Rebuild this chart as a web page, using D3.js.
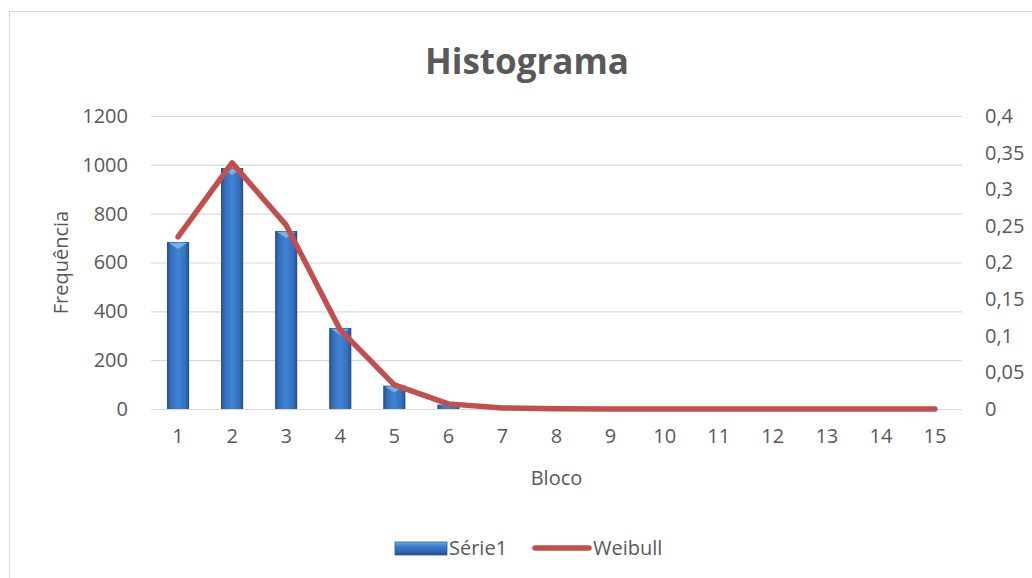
<!DOCTYPE html>
<html>
<head>
<meta charset="utf-8">
<script src="https://cdn.jsdelivr.net/npm/d3@7"></script>
<style>
  body { margin: 0; background: #fff; }
  text { font-family: "Open Sans", sans-serif; fill: #595959; }
</style>
</head>
<body>
<div id="chart"></div>
<script>
// data
var bins = [1, 2, 3, 4, 5, 6, 7, 8, 9, 10, 11, 12, 13, 14, 15];
var serie1 = [684, 987, 729, 332, 96, 18, 2, 0, 0, 0, 0, 0, 0, 0, 0];
var weibull = [0.235, 0.336, 0.251, 0.108, 0.033, 0.007, 0.0015, 0.0002, 0, 0, 0, 0, 0, 0, 0];
var leftTicks = [0, 200, 400, 600, 800, 1000, 1200];
var rightTicks = [0, 0.05, 0.1, 0.15, 0.2, 0.25, 0.3, 0.35, 0.4];

var w = 1032, h = 578;
var plotLeft = 151, plotRight = 962, plotTop = 116, plotBottom = 409;
var fontSize = "20px";

var svg = d3.select("#chart").append("svg")
    .attr("width", w)
    .attr("height", h);

// chart border (runs off the right / bottom of the picture)
svg.append("rect")
    .attr("x", 9.5).attr("y", 11.5)
    .attr("width", w + 20).attr("height", h + 20)
    .style("fill", "#fff")
    .style("stroke", "#d9d9d9");

var defs = svg.append("defs");
var grad = defs.append("linearGradient").attr("id", "barGrad")
    .attr("x1", "0%").attr("x2", "100%").attr("y1", "0%").attr("y2", "0%");
[["0%", "#254f88"], ["18%", "#3570bd"], ["50%", "#4184d6"], ["82%", "#3570bd"], ["100%", "#254f88"]]
    .forEach(function(s) { grad.append("stop").attr("offset", s[0]).attr("stop-color", s[1]); });

var legGrad = defs.append("linearGradient").attr("id", "legGrad")
    .attr("x1", "0%").attr("x2", "0%").attr("y1", "0%").attr("y2", "100%");
[["0%", "#6fb1ea"], ["30%", "#3f80d2"], ["75%", "#2f66ad"], ["100%", "#234c85"]]
    .forEach(function(s) { legGrad.append("stop").attr("offset", s[0]).attr("stop-color", s[1]); });

var xScale = d3.scaleBand().domain(bins).range([plotLeft, plotRight]);
var yScaleLeft = d3.scaleLinear().domain([0, 1200]).range([plotBottom, plotTop]);
var yScaleRight = d3.scaleLinear().domain([0, 0.4]).range([plotBottom, plotTop]);

var comma = function(d) { return String(d).replace(".", ","); };

// gridlines
svg.append("g")
    .attr("class", "grid")
    .attr("transform", `translate(${plotLeft},0)`)
    .call(d3.axisLeft(yScaleLeft).tickValues(leftTicks).tickSize(-(plotRight - plotLeft)).tickFormat(""))
    .call(g => g.select(".domain").remove())
    .selectAll("line")
    .style("stroke", "#d9d9d9")
    .style("stroke-width", 1.2);

// left axis labels
svg.append("g")
    .attr("transform", `translate(${plotLeft},0)`)
    .call(d3.axisLeft(yScaleLeft).tickValues(leftTicks).tickSize(0).tickPadding(23).tickFormat(d => String(d)))
    .call(g => g.select(".domain").remove())
    .selectAll("text")
    .style("font-size", fontSize)
    .style("font-family", "'Open Sans', sans-serif")
    .style("fill", "#595959");

// right axis labels
svg.append("g")
    .attr("transform", `translate(${plotRight},0)`)
    .call(d3.axisRight(yScaleRight).tickValues(rightTicks).tickSize(0).tickPadding(23).tickFormat(comma))
    .call(g => g.select(".domain").remove())
    .selectAll("text")
    .style("font-size", fontSize)
    .style("font-family", "'Open Sans', sans-serif")
    .style("fill", "#595959");

// x axis labels
svg.append("g")
    .attr("transform", `translate(0,${plotBottom})`)
    .call(d3.axisBottom(xScale).tickSize(0).tickPadding(20))
    .call(g => g.select(".domain").remove())
    .selectAll("text")
    .style("font-size", fontSize)
    .style("font-family", "'Open Sans', sans-serif")
    .style("fill", "#595959");

// bars
var barW = xScale.bandwidth() * 0.41;
var bars = svg.selectAll(".bar")
    .data(bins.map((b, i) => ({ bin: b, value: serie1[i] })))
    .enter().append("g")
    .attr("class", "bar");

bars.append("rect")
    .attr("x", d => xScale(d.bin) + (xScale.bandwidth() - barW) / 2)
    .attr("y", d => yScaleLeft(d.value))
    .attr("width", barW)
    .attr("height", d => plotBottom - yScaleLeft(d.value))
    .style("fill", "url(#barGrad)");

// little bevel highlight at the top of each bar
bars.filter(d => plotBottom - yScaleLeft(d.value) > 6)
    .append("path")
    .attr("d", function(d) {
        var cx = xScale(d.bin) + xScale.bandwidth() / 2, y0 = yScaleLeft(d.value);
        return `M${cx - barW / 2 + 2},${y0 + 1}L${cx + barW / 2 - 2},${y0 + 1}L${cx},${y0 + 7}Z`;
    })
    .style("fill", "#7cc0ec")
    .style("opacity", 0.8);

// weibull line
var line = d3.line()
    .x((d, i) => xScale(bins[i]) + xScale.bandwidth() / 2)
    .y(d => yScaleRight(d));

svg.append("path")
    .datum(weibull)
    .attr("d", line)
    .style("fill", "none")
    .style("stroke", "#c0504d")
    .style("stroke-width", 5.5)
    .style("stroke-linejoin", "round")
    .style("stroke-linecap", "round");

// title
svg.append("text")
    .attr("x", 527)
    .attr("y", 74)
    .attr("text-anchor", "middle")
    .style("font-size", "35px")
    .style("font-weight", "bold")
    .text("Histograma");

// axis titles
svg.append("text")
    .attr("x", (plotLeft + plotRight) / 2)
    .attr("y", 485)
    .attr("text-anchor", "middle")
    .style("font-size", fontSize)
    .text("Bloco");

svg.append("text")
    .attr("transform", `translate(68,${(plotTop + plotBottom) / 2}) rotate(-90)`)
    .attr("text-anchor", "middle")
    .style("font-size", fontSize)
    .text("Frequência");

// legend
var legend = svg.append("g").attr("class", "legend");
legend.append("rect")
    .attr("x", 395).attr("y", 542)
    .attr("width", 52).attr("height", 13)
    .style("fill", "url(#legGrad)")
    .style("stroke", "#2a5a96")
    .style("stroke-width", 0.8);
legend.append("text")
    .attr("x", 449).attr("y", 555)
    .style("font-size", fontSize)
    .text("Série1");
legend.append("line")
    .attr("x1", 535).attr("x2", 589)
    .attr("y1", 548).attr("y2", 548)
    .style("stroke", "#c0504d")
    .style("stroke-width", 5.5)
    .style("stroke-linecap", "round");
legend.append("text")
    .attr("x", 593).attr("y", 555)
    .style("font-size", fontSize)
    .text("Weibull");
</script>
</body>
</html>
